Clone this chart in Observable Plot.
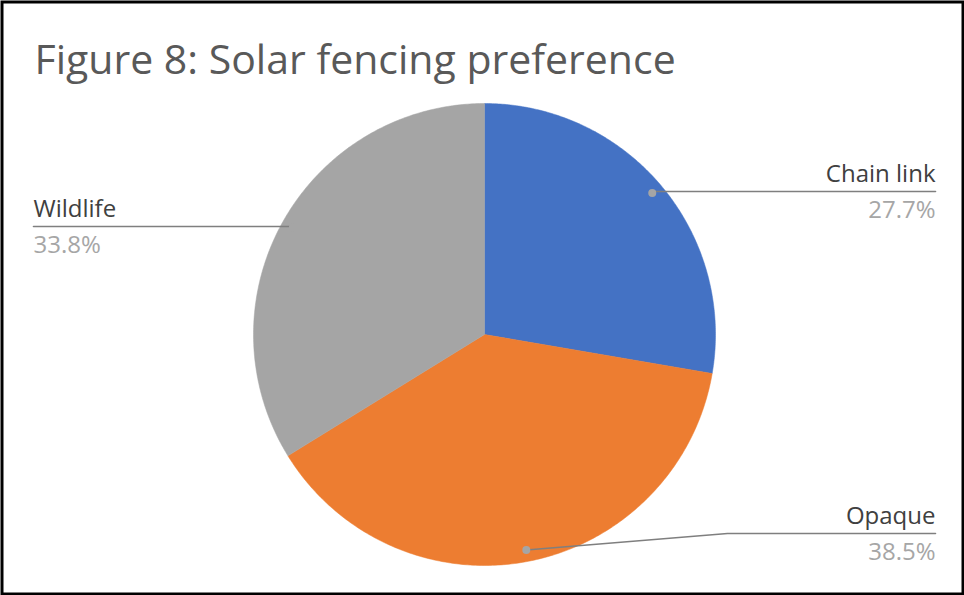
<!DOCTYPE html>
<html>
<head>
<meta charset="utf-8">
<script src="https://cdn.jsdelivr.net/npm/d3@7"></script>
<script src="https://cdn.jsdelivr.net/npm/@observablehq/plot@0.6"></script>
<style>
  html, body { margin: 0; padding: 0; background: #fff; }
  #chart svg { display: block; }
</style>
</head>
<body>
<div id="chart"></div>
<script>
// ---- data ----
const categories = ["Chain link", "Opaque", "Wildlife"];
const values = [27.7, 38.5, 33.8];
const percentLabels = ["27.7%", "38.5%", "33.8%"];
const colors = ["#4472C4", "#ED7D31", "#A5A5A5"];
const titleText = "Figure 8: Solar fencing preference";

// ---- layout ----
const W = 964, H = 595;
const cx = 484, cy = 334, R = 231;
const dotFrac = 0.95;
const labelSize = 24;
// label layout: line end x, line y, text anchor, optional elbow x
const labelLayout = {
  "Chain link": {lineEnd: 935, lineY: 191, anchor: "end", elbowX: null},
  "Opaque":     {lineEnd: 935, lineY: 533, anchor: "end", elbowX: 727},
  "Wildlife":   {lineEnd: 33,  lineY: 226, anchor: "start", elbowX: null}
};

const table = categories.map((name, i) => ({name, value: values[i], pct: percentLabels[i], color: colors[i]}));
const arcs = d3.pie().sort(null).value(d => d.value)(table);

const polar = (a, r) => [cx + r * Math.sin(a), cy - r * Math.cos(a)];

// slice polygons
const slicePts = [];
arcs.forEach(a => {
  slicePts.push({name: a.data.name, x: cx, y: cy});
  const n = 200;
  for (let k = 0; k <= n; k++) {
    const t = a.startAngle + (a.endAngle - a.startAngle) * k / n;
    const [x, y] = polar(t, R);
    slicePts.push({name: a.data.name, x, y});
  }
  slicePts.push({name: a.data.name, x: cx, y: cy});
});

// leader lines and dots
const leaderPts = [];
const dots = [];
const nameLabels = [];
const pctLabels = [];
arcs.forEach(a => {
  const L = labelLayout[a.data.name];
  const mid = (a.startAngle + a.endAngle) / 2;
  const [dx, dy] = polar(mid, R * dotFrac);
  dots.push({name: a.data.name, x: dx, y: dy});
  leaderPts.push({name: a.data.name, x: dx, y: dy});
  if (L.elbowX != null) leaderPts.push({name: a.data.name, x: L.elbowX, y: L.lineY});
  else leaderPts[leaderPts.length - 1].y = L.lineY;
  leaderPts.push({name: a.data.name, x: L.lineEnd, y: L.lineY});
  nameLabels.push({text: a.data.name, x: L.lineEnd, y: L.lineY - 17, anchor: L.anchor});
  pctLabels.push({text: a.data.pct, x: L.lineEnd, y: L.lineY + 19, anchor: L.anchor});
});

const sliceMarks = categories.map((c, i) =>
  Plot.line(slicePts.filter(d => d.name === c), {x: "x", y: "y", fill: colors[i], stroke: colors[i], strokeWidth: 0.5, curve: "linear"})
);

const textMarks = [];
for (const anchor of ["start", "end"]) {
  textMarks.push(Plot.text(nameLabels.filter(d => d.anchor === anchor), {x: "x", y: "y", text: "text", textAnchor: anchor, fill: "#404040", fontSize: labelSize, fontFamily: "Open Sans"}));
  textMarks.push(Plot.text(pctLabels.filter(d => d.anchor === anchor), {x: "x", y: "y", text: "text", textAnchor: anchor, fill: "#A6A6A6", fontSize: labelSize, fontFamily: "Open Sans"}));
}

const chart = Plot.plot({
  width: W,
  height: H,
  margin: 0,
  x: {domain: [0, W], range: [0, W], axis: null},
  y: {domain: [0, H], range: [0, H], axis: null},
  style: {background: "#fff"},
  marks: [
    ...sliceMarks,
    Plot.line(leaderPts, {x: "x", y: "y", z: "name", stroke: "#7F7F7F", strokeWidth: 1.6}),
    Plot.dot(dots, {x: "x", y: "y", r: 4, fill: "#A5A5A5", stroke: "none"}),
    ...textMarks,
    Plot.text([titleText], {x: () => 34, y: () => 60, text: d => d, textAnchor: "start", fill: "#595959", fontSize: 41, fontFamily: "Open Sans", fontWeight: 400}),
    Plot.frame({stroke: "#000", strokeWidth: 3, inset: 1.5})
  ]
});
document.getElementById("chart").appendChild(chart);
</script>
</body>
</html>
